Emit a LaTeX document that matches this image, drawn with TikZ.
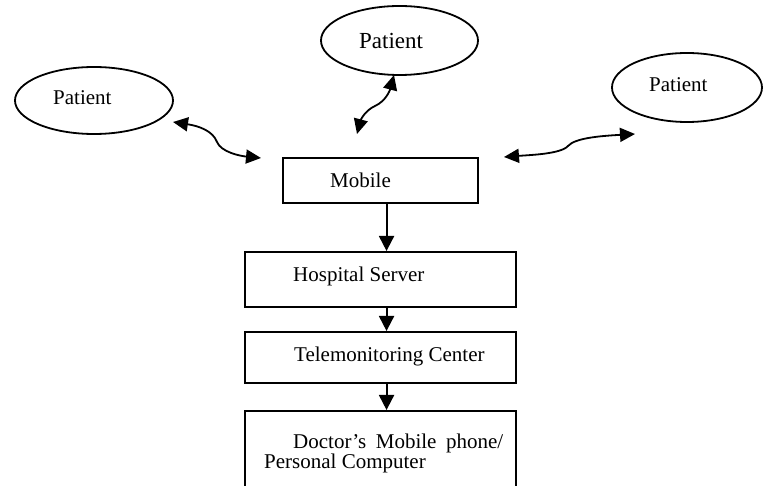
\documentclass[tikz,border=0pt]{standalone}
\usepackage{fontspec}
\setmainfont{Liberation Serif}
\usetikzlibrary{shapes.geometric,arrows.meta}
\begin{document}
\begin{tikzpicture}[x=1pt,y=-1pt,
  box/.style={draw, rectangle, anchor=north west, inner sep=0pt, line width=2.1pt},
  pat/.style={draw, ellipse, inner sep=0pt, line width=1.8pt},
  txt/.style={anchor=base west, inner sep=0pt, font=\fontsize{21}{19.3}\selectfont},
  bigtxt/.style={anchor=base west, inner sep=0pt, font=\fontsize{23}{24}\selectfont},
  arr/.style={-{Triangle[length=15pt,width=15pt]}, line width=1.9pt},
  darr/.style={{Triangle[length=15pt,width=14pt]}-{Triangle[length=15pt,width=14pt]}, line width=1.8pt}]
\clip (0,0) rectangle (764,486);
% patients
\node[pat, minimum width=158pt, minimum height=67pt] (p1) at (94,100.5) {};
\node[pat, minimum width=157pt, minimum height=69pt] (p2) at (399.5,40.5) {};
\node[pat, minimum width=150pt, minimum height=69pt] (p3) at (687,87.5) {};
\node[txt] (p1t) at (53,105) {Patient};
\node[bigtxt] (p2t) at (359,48.3) {Patient};
\node[txt] (p3t) at (649,91.7) {Patient};
% boxes
\node[box, minimum width=195pt, minimum height=45pt] (mob) at (282,157) {};
\node[box, minimum width=271pt, minimum height=55pt] (hosp) at (244,251) {};
\node[box, minimum width=271pt, minimum height=51pt] (tele) at (244,331) {};
\node[box, minimum width=271pt, minimum height=95pt] (doc) at (244,410) {};
\node[txt] (mobt) at (330,187.3) {Mobile};
\node[txt] (hospt) at (293,281.7) {Hospital Server};
\node[txt] (telet) at (294,361.7) {Telemonitoring Center};
\node[txt] (doct1) at (293,449) {\makebox[210pt][s]{Doctor’s Mobile phone/}};
\node[txt] (doct2) at (264,468.3) {Personal Computer};
% straight arrows
\draw[arr] ([xshift=6pt]mob.south) -- ([xshift=6pt]hosp.north);
\draw[arr] ([xshift=6pt]hosp.south) -- ([xshift=6pt]tele.north);
\draw[arr] ([xshift=6pt]tele.south) -- ([xshift=6pt]doc.north);
% wavy double arrows
\coordinate (l1) at (173,122);
\coordinate (l2) at (261,158);
\coordinate (m1) at (357,134);
\coordinate (m2) at (394,75);
\coordinate (r1) at (504,157);
\coordinate (r2) at (635,134);
\draw[darr] (l1) .. controls (199,126) and (213,131) .. (217,142) .. controls (221,152) and (240,156) .. (l2);
\draw[darr] (m1) .. controls (361,119) and (366,110) .. (375,106) .. controls (386,101) and (390,90) .. (m2);
\draw[darr] (r1) .. controls (530,155) and (561,154) .. (568,146) .. controls (575,138) and (600,136) .. (r2);
\end{tikzpicture}
\end{document}
